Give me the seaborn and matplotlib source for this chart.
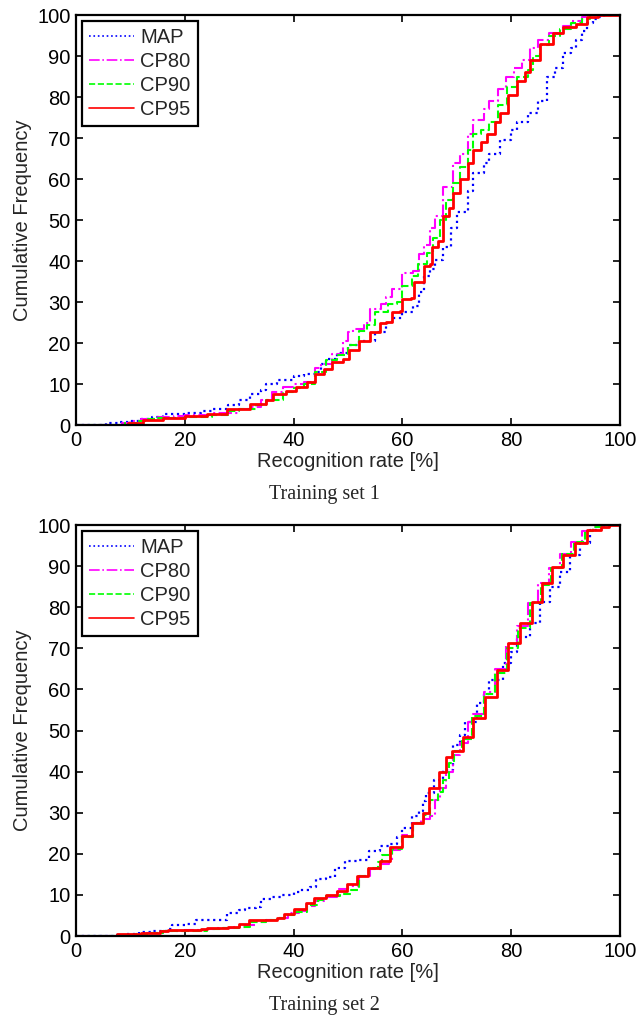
import numpy as np
import pandas as pd
import matplotlib
matplotlib.use("Agg")
import matplotlib.pyplot as plt
import seaborn as sns

# training set 1 - cumulative frequency curves
t1_map_x = [0, 5.5, 8, 10, 12, 14, 16, 20, 23, 25, 28, 30, 32, 34, 35, 37, 40, 42, 44, 45, 46, 48, 50, 52, 55, 57, 58, 60, 62, 63, 64, 65, 66, 67.5, 69, 70, 72, 73, 75, 76, 78, 80, 81, 83, 85, 86.5, 88, 89.5, 91, 92, 93, 94, 95, 96, 97, 100]
t1_map_y = [0, 0.5, 0.8, 1, 1.5, 2, 2.8, 3, 3.5, 3.8, 4.8, 6, 7.5, 8.5, 10, 11, 12, 12.5, 13, 15, 16.2, 17.5, 19.5, 20.6, 22.7, 25, 26, 27.5, 29, 32.4, 36.4, 38, 40.2, 43.4, 48, 52, 57, 61.5, 64, 66, 69.5, 72, 74, 76, 79, 85, 87, 90.7, 92, 94, 96, 98, 99, 99.5, 100, 100]

t1_cp80_x = [0, 8.5, 10, 12, 15, 18, 20, 25, 30, 32, 34, 36, 38, 40, 42, 44, 45, 47, 49, 50, 51, 53, 54, 56, 57, 58, 60, 62, 63, 64, 65, 66, 67.5, 69.3, 70.5, 72, 73, 75, 76, 77.5, 79, 80.5, 82, 83.5, 85, 87, 89.5, 91, 93, 94, 100]
t1_cp80_y = [0, 0.5, 1, 1.5, 2, 2.3, 2.5, 3, 4, 4.5, 6, 8, 9.3, 10, 10.5, 13.8, 15, 17.4, 20.6, 22.7, 23.5, 25, 28.3, 29.5, 31.2, 33.2, 37.2, 37.5, 41.7, 44, 48, 51, 58, 64, 66, 71, 74.4, 77, 79, 82, 85, 87, 89, 92, 94, 95.6, 97.3, 98.5, 99.5, 100, 100]

t1_cp90_x = [0, 9, 11, 13, 15, 20, 25, 28, 30, 33, 35, 38, 40, 42, 44, 46, 48, 50, 52, 53.5, 55, 57.3, 59, 60, 61.8, 62.9, 64.5, 65.6, 67, 68, 69.3, 70.5, 72, 73, 74.5, 76, 77.5, 79.2, 81, 83, 84, 85.3, 87, 89, 91, 93, 94.5, 100]
t1_cp90_y = [0, 0.5, 1, 1.5, 1.8, 2, 2.5, 3.5, 4, 5, 6, 8, 9, 10, 13, 15.8, 17, 19.4, 23, 24.5, 27.5, 29.5, 30, 34, 36.4, 39.3, 42, 45.6, 50, 55, 59, 63, 67, 71, 72, 74, 78, 82.5, 85, 86.6, 90, 92.7, 95, 96.5, 98, 99, 100, 100]

t1_cp95_x = [0, 9.5, 12.4, 15, 16, 20, 24, 27.7, 31, 32, 35, 36.3, 38.6, 40.5, 42.5, 44, 45.5, 47, 49, 50.2, 52, 54, 55.8, 57, 58, 59.5, 60, 61.5, 62.2, 63.5, 64, 65, 65.5, 66.5, 67.5, 68.5, 69.3, 70.5, 72, 73, 74.5, 75.5, 77, 78, 79.4, 81, 82.5, 83.5, 85.3, 87.7, 89.5, 92, 94, 96, 100]
t1_cp95_y = [0, 0.6, 1.2, 1.3, 1.6, 2.2, 2.8, 3.8, 4, 5.2, 6, 7.6, 8.4, 9.2, 10.4, 12.5, 13.6, 15.4, 16, 18.2, 20.6, 22.7, 25, 25.2, 27.6, 27.8, 30.7, 31, 34.8, 35, 38.9, 39.2, 43.4, 45, 51, 53, 56.6, 60, 64, 67, 69, 71, 74, 76, 80.5, 84, 86, 89, 93, 95.6, 97, 97.8, 99.5, 100, 100]

# training set 2
t2_map_x = [0, 7, 9, 11.6, 14, 17, 17.6, 20, 22, 25, 27.7, 30, 31, 33, 34, 36, 37.8, 40, 41.2, 43, 44.2, 46, 47.6, 49.4, 52, 53.9, 55.8, 57.5, 59, 60, 61.8, 63, 63.7, 64.4, 65.9, 67.4, 69.3, 70.5, 71.5, 73.7, 75, 76, 78.5, 80, 81, 83.5, 85.3, 87.1, 89, 90.8, 92.6, 94.5, 96, 100]
t2_map_y = [0, 0.3, 0.6, 1, 1.3, 1.6, 2.7, 3, 3.8, 4, 5.7, 6.3, 6.9, 7, 8.9, 9.4, 10, 10.8, 11.3, 12, 13.8, 14.3, 16.6, 18.2, 18.6, 20.6, 21.9, 22.5, 24, 26.3, 29.1, 30.5, 32.8, 34.8, 38, 40.5, 46.5, 49, 52, 56.7, 59, 62.3, 66.4, 69, 72.7, 76.2, 81.3, 85, 88.6, 92.7, 95.6, 98.8, 100, 100]

t2_cp80_x = [0, 8, 11, 13, 16, 20, 24, 26, 29, 31, 33, 35, 37, 39, 41, 42.5, 44, 46, 48, 50, 52, 54, 56, 57.5, 58, 60, 62, 63.5, 65, 66, 67, 68, 69.3, 70.5, 72, 73, 75, 77, 79, 81, 83, 85, 87, 89, 91, 93, 95, 97, 100]
t2_cp80_y = [0, 0.3, 0.6, 0.8, 1.2, 1.4, 1.7, 2, 2.3, 2.8, 3.5, 4, 4.5, 5.5, 6, 7.2, 8.5, 9.5, 11.5, 12.2, 14.5, 16.2, 17.5, 18, 21, 24.5, 27.5, 28.5, 29.3, 33, 36, 40, 44, 47, 52, 54, 59.5, 65, 71, 75.5, 81, 86, 89.5, 93, 96, 98.5, 99.5, 100, 100]

t2_cp90_x = [0, 7.5, 11, 13, 16, 20, 24, 27, 30, 32, 35, 37, 38.5, 40.5, 42.5, 44.5, 46, 48.5, 50.5, 52, 53.8, 55.5, 56.2, 58, 60, 62, 64, 65, 66.5, 67.5, 68.5, 69.5, 71, 72.8, 75, 77, 79.3, 81.3, 83.5, 85.5, 87.3, 89.3, 91.5, 93.5, 95, 97, 100]
t2_cp90_y = [0, 0.3, 0.5, 0.8, 1.2, 1.3, 1.6, 2, 2.3, 3.5, 4, 4.3, 5, 5.8, 7.5, 8.8, 9.8, 10.2, 11.3, 14.5, 16.5, 18, 19.8, 21.2, 24, 27.5, 29.5, 33, 35, 38, 42, 45, 48, 53.5, 59, 64, 70, 75, 81, 85.5, 89.5, 93, 96, 98.5, 99.5, 100, 100]

t2_cp95_x = [0, 7.5, 11, 12, 15.4, 17, 23, 24, 28, 30, 31.8, 35, 37, 38.2, 40, 42.3, 43.8, 46, 47.9, 49.8, 51.7, 53.6, 55.8, 57.7, 60, 61.8, 63.7, 64.8, 66.7, 68, 69.1, 71.1, 73, 75.2, 77.4, 79.4, 81.6, 83.8, 85.7, 87.5, 89.5, 91.7, 94, 96.5, 98, 100]
t2_cp95_y = [0, 0.4, 0.6, 0.8, 1.3, 1.5, 1.6, 2, 2.3, 3, 3.8, 4, 4.3, 5.3, 6.5, 8.1, 9.3, 10, 10.9, 12.6, 14.6, 16.6, 18.2, 21.6, 24.3, 27.5, 30, 36, 40, 43.5, 45, 48.4, 53, 58.2, 64.7, 71.3, 76.2, 81.3, 85.9, 89.8, 92.7, 95.6, 98.8, 99.5, 100, 100]

labels = ["MAP", "CP80", "CP90", "CP95"]
colors = ["#0000ff", "#ff00ff", "#00ff00", "#ff0000"]
styles = [":", "-.", "--", "-"]
widths = [1.6, 1.5, 1.5, 2.0]

sets = [
    [(t1_map_x, t1_map_y), (t1_cp80_x, t1_cp80_y), (t1_cp90_x, t1_cp90_y), (t1_cp95_x, t1_cp95_y)],
    [(t2_map_x, t2_map_y), (t2_cp80_x, t2_cp80_y), (t2_cp90_x, t2_cp90_y), (t2_cp95_x, t2_cp95_y)],
]
captions = ["Training set 1", "Training set 2"]

sns.set_style("ticks")
plt.rcParams['font.family'] = ['Liberation Sans', 'DejaVu Sans']

fig = plt.figure(figsize=(6.37, 10.17), dpi=100)
ax_pos = [[0.1193, 0.5821, 0.854, 0.4031], [0.1193, 0.0796, 0.854, 0.4041]]
cap_y = [0.514, 0.011]

for k in range(2):
    ax = fig.add_axes(ax_pos[k])
    for i in range(4):
        xs, ys = sets[k][i]
        df = pd.DataFrame({"x": xs, "y": ys})
        sns.lineplot(data=df, x="x", y="y", ax=ax, drawstyle="steps-post",
                     color=colors[i], linestyle=styles[i], linewidth=widths[i],
                     label=labels[i], estimator=None)
    ax.set_xlim(0, 100)
    ax.set_ylim(0, 100)
    ax.set_xticks(np.arange(0, 101, 20))
    ax.set_yticks(np.arange(0, 101, 10))
    ax.tick_params(direction="in", length=5, width=1.2, top=True, right=True,
                   labelsize=14.5, colors="black", pad=4)
    for s in ax.spines.values():
        s.set_linewidth(1.6)
        s.set_color("black")
        s.set_visible(True)
    ax.set_xlabel("Recognition rate [%]", fontsize=14.5, labelpad=2)
    ax.set_ylabel("Cumulative Frequency", fontsize=14.5, labelpad=4)
    leg = ax.legend(loc="upper left", fontsize=14.5, frameon=True, fancybox=False,
                    framealpha=1, edgecolor="black", handlelength=2.25,
                    handletextpad=0.3, labelspacing=0.25, borderpad=0.35,
                    borderaxespad=0.3)
    leg.get_frame().set_linewidth(1.6)
    for h in leg.get_lines():
        h.set_linewidth(1.2)
    fig.text(0.5094, cap_y[k], captions[k], ha="center", va="center",
             fontsize=14.5, family=["Liberation Serif", "DejaVu Serif"])

fig.savefig("out.png", dpi=100)
